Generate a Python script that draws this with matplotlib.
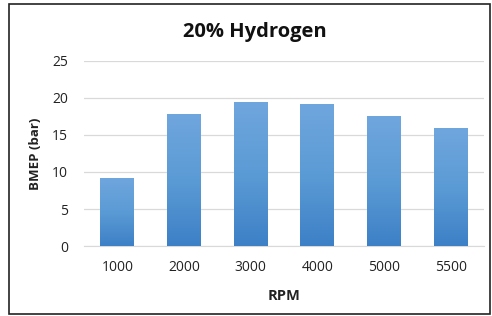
import matplotlib
matplotlib.use("Agg")
import matplotlib.pyplot as plt
import numpy as np
from matplotlib.colors import LinearSegmentedColormap
from matplotlib.patches import Rectangle

categories = ["1000", "2000", "3000", "4000", "5000", "5500"]
bmep = [9.2, 17.9, 19.5, 19.2, 17.5, 15.9]
yticks = [0, 5, 10, 15, 20, 25]

plt.rcParams['font.family'] = ['Open Sans', 'DejaVu Sans']

fig = plt.figure(figsize=(4.92, 3.16), dpi=100)
ax = fig.add_axes([0.1707, 0.2215, 0.813, 0.5855])

x = np.arange(len(categories))
bars = ax.bar(x, bmep, width=0.51, color="#5B9BD5", zorder=2)

cmap = LinearSegmentedColormap.from_list("g", ["#3D80C6", "#5B9BD5", "#70A6DE"])
grad = np.linspace(0, 1, 256).reshape(-1, 1)
for b in bars:
    bx, by = b.get_x(), b.get_y()
    w, h = b.get_width(), b.get_height()
    im = ax.imshow(grad, cmap=cmap, aspect='auto', origin='lower',
                   extent=[bx, bx + w, by, by + h], zorder=3)
    im.set_clip_path(b)

ax.set_xlim(-0.5, len(categories) - 0.5)
ax.set_ylim(0, 25)
ax.set_yticks(yticks)
ax.set_xticks(x)
ax.set_xticklabels(categories)
ax.yaxis.grid(True, color="#D9D9D9", linewidth=0.9, zorder=0)
ax.set_axisbelow(True)
for s in ["top", "right", "left"]:
    ax.spines[s].set_visible(False)
ax.spines["bottom"].set_color("#D9D9D9")
ax.tick_params(axis='both', length=0, labelsize=10, colors="#222222", pad=10)
ax.tick_params(axis='y', pad=11.5)

ax.set_xlabel("RPM", fontsize=10.5, fontweight='bold', color="#222222", labelpad=10)
ax.set_ylabel("BMEP (bar)", fontsize=9.5, fontweight='bold', color="#222222", labelpad=7)
fig.text(0.518, 0.9, "20% Hydrogen", ha='center', va='center',
         fontsize=14.5, fontweight='bold', color="#111111")

fig.patches.append(Rectangle((9/492, 1 - 314/316), 481/492, 310/316,
                             transform=fig.transFigure, fill=False,
                             edgecolor="#222222", linewidth=1.2))

fig.savefig("out.png", dpi=100)
